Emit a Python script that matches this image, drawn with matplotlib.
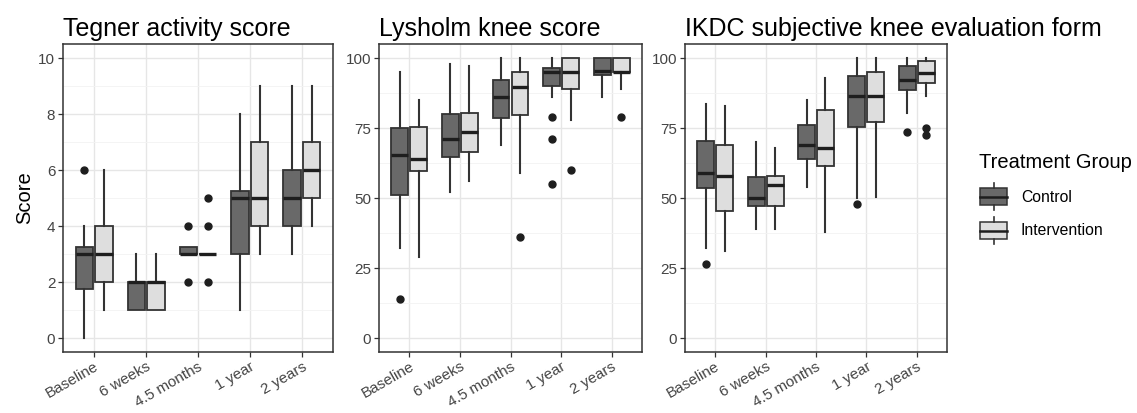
import matplotlib.pyplot as plt
from matplotlib.patches import Rectangle
from matplotlib.lines import Line2D
from matplotlib.ticker import MultipleLocator

plt.rcParams['font.family'] = ['Liberation Sans', 'DejaVu Sans']

timepoints = ['Baseline', '6 weeks', '4.5 months', '1 year', '2 years']
groups = ['Control', 'Intervention']
titles = ['Tegner activity score', 'Lysholm knee score',
          'IKDC subjective knee evaluation form']

# box stats per timepoint: [whisker low, q1, median, q3, whisker high]
tegner_control = [[0, 1.75, 3, 3.25, 4], [1, 1, 2, 2, 3], [3, 3, 3, 3.25, 3.25],
                  [1, 3, 5, 5.25, 8], [3, 4, 5, 6, 9]]
tegner_control_out = [[6], [], [4, 2], [], []]
tegner_interv = [[1, 2, 3, 4, 6], [1, 1, 2, 2, 3], [3, 3, 3, 3, 3],
                 [3, 4, 5, 7, 9], [4, 5, 6, 7, 9]]
tegner_interv_out = [[], [], [5, 4, 2], [], []]

lysholm_control = [[32, 51, 65.5, 75, 95], [52, 64.5, 71, 80, 98],
                   [69, 78.5, 86, 92, 100], [86, 90, 95, 96.5, 100],
                   [86, 94, 95.5, 100, 100]]
lysholm_control_out = [[14], [], [], [79, 71, 55], []]
lysholm_interv = [[29, 59.5, 64, 75.5, 85], [56, 66.5, 73.5, 80.5, 97],
                  [59, 79.5, 89.5, 95, 100], [78, 89, 95, 100, 100],
                  [89, 95, 95, 100, 100]]
lysholm_interv_out = [[], [], [36], [60], [79]]

ikdc_control = [[32, 53.5, 59, 70.5, 83.5], [39, 47, 50, 57.5, 70],
                [54, 64, 69, 76, 85], [50, 75.5, 86.5, 93.5, 100],
                [80.5, 88.5, 92, 97, 100]]
ikdc_control_out = [[26.5], [], [], [48], [73.5]]
ikdc_interv = [[31, 45.5, 58, 69, 83], [39, 47, 54.5, 58, 68],
               [38, 61.5, 68, 81.5, 93], [50.5, 77, 86.5, 95, 100],
               [86.5, 91, 94.5, 99, 100]]
ikdc_interv_out = [[], [], [], [], [75, 72.5]]

panels = [
    (tegner_control, tegner_control_out, tegner_interv, tegner_interv_out),
    (lysholm_control, lysholm_control_out, lysholm_interv, lysholm_interv_out),
    (ikdc_control, ikdc_control_out, ikdc_interv, ikdc_interv_out),
]
ylims = [(-0.5, 10.5), (-5, 105), (-5, 105)]
ymajor = [2, 25, 25]
ymin = [1, 12.5, 12.5]

fills = ['#696969', '#dedede']
edge = '#333333'
tick_col = '#444444'

W, H = 1137, 413
fig = plt.figure(figsize=(W / 100, H / 100), dpi=100)
boxes_px = [(63, 333), (379, 642), (685, 947)]
top_px, bot_px = 44, 352


def to_stats(rows, outs):
    out = []
    for r, o in zip(rows, outs):
        out.append(dict(whislo=r[0], q1=r[1], med=r[2], q3=r[3], whishi=r[4],
                        fliers=o))
    return out


for k, (l, r) in enumerate(boxes_px):
    ax = fig.add_axes([l / W, 1 - bot_px / H, (r - l) / W, (bot_px - top_px) / H])
    data = panels[k]
    for g in range(2):
        stats = to_stats(data[2 * g], data[2 * g + 1])
        pos = [i + 1 + (g - 0.5) * 0.375 for i in range(len(timepoints))]
        ax.bxp(stats, positions=pos, widths=0.335, patch_artist=True,
               showcaps=False, manage_ticks=False,
               boxprops=dict(facecolor=fills[g], edgecolor=edge, linewidth=1.3),
               whiskerprops=dict(color=edge, linewidth=1.5),
               medianprops=dict(color='#1e1e1e', linewidth=2.4),
               flierprops=dict(marker='o', markersize=5, markerfacecolor='#1e1e1e',
                               markeredgecolor='#1e1e1e'),
               zorder=3)
    ax.set_xlim(0.4, 5.6)
    ax.set_ylim(*ylims[k])
    ax.set_xticks(range(1, 6))
    ax.set_xticklabels(timepoints, rotation=30, ha='right', rotation_mode='anchor')
    ax.yaxis.set_major_locator(MultipleLocator(ymajor[k]))
    ax.yaxis.set_minor_locator(MultipleLocator(ymin[k]))
    ax.grid(which='major', color='#e6e6e6', linewidth=1.0, zorder=0)
    ax.grid(which='minor', axis='y', color='#f2f2f2', linewidth=0.6, zorder=0)
    ax.set_axisbelow(True)
    ax.tick_params(which='minor', length=0)
    ax.tick_params(which='major', length=3.5, width=0.9, color=edge,
                   labelsize=11, labelcolor=tick_col, pad=2)
    for s in ax.spines.values():
        s.set_color(edge)
        s.set_linewidth(1.1)
    ax.set_title(titles[k], loc='left', fontsize=18, pad=6)
    if k == 0:
        ax.set_ylabel('Score', fontsize=14.5, labelpad=3)


# legend drawn by hand in figure pixels
def fx(x):
    return x / W


def fy(y):
    return 1 - y / H


fig.text(fx(979), fy(163), 'Treatment Group', fontsize=14.5, va='center', ha='left')
key_tops = [188, 222]
for g, name in enumerate(groups):
    t = key_tops[g]
    fig.add_artist(Rectangle((fx(980), fy(t + 17)), fx(27), 17 / H,
                             facecolor=fills[g], edgecolor=edge, linewidth=1.1,
                             transform=fig.transFigure))
    fig.add_artist(Line2D([fx(980), fx(1007)], [fy(t + 8.5)] * 2, color='#1e1e1e',
                          linewidth=1.8, transform=fig.transFigure))
    for a, b in [(t - 5, t), (t + 17, t + 22)]:
        fig.add_artist(Line2D([fx(993.5)] * 2, [fy(a), fy(b)], color=edge,
                              linewidth=1.2, transform=fig.transFigure))
    fig.text(fx(1021), fy(t + 9), name, fontsize=11.3, va='center', ha='left')

fig.savefig('out.png', dpi=100)
